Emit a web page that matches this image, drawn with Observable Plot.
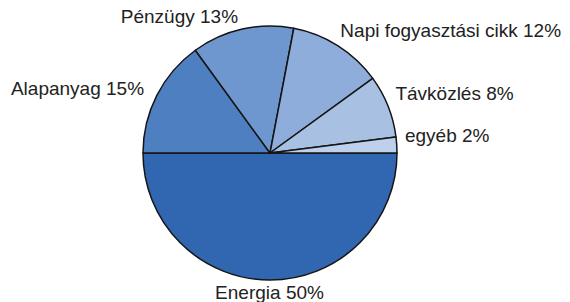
<!DOCTYPE html>
<html>
<head>
<meta charset="utf-8">
<script src="https://cdn.jsdelivr.net/npm/d3@7"></script>
<script src="https://cdn.jsdelivr.net/npm/@observablehq/plot@0.6"></script>
<style>
  html, body { margin: 0; padding: 0; background: #fff; }
  #chart { width: 570px; height: 302px; overflow: hidden; }
</style>
</head>
<body>
<div id="chart"></div>
<script>
const categories = ["Energia", "Alapanyag", "Pénzügy", "Napi fogyasztási cikk", "Távközlés", "egyéb"];
const shares = [50, 15, 13, 12, 8, 2];
const colors = ["#3166b0", "#4e7fc1", "#6e96cf", "#8eaddb", "#a8c0e2", "#bdd0ec"];

const data = categories.map((c, i) => ({name: c, value: shares[i], color: colors[i]}));
const arcs = d3.pie().sort(null).value(d => d.value)
  .startAngle(Math.PI / 2).endAngle(Math.PI / 2 + 2 * Math.PI)(data);

const W = 570, H = 302, R = 127, CX = 270, CY = 153;
const LR = 1.1;
const labels = arcs.map(a => {
  const m = (a.startAngle + a.endAngle) / 2;
  const sx = Math.sin(m), cy = Math.cos(m);
  // lift right-hand labels slightly (in pixels, converted to data units)
  const lift = sx > 0.01 ? 9 * sx : 1 * Math.abs(sx);
  return {
    text: `${a.data.name} ${a.data.value}%`,
    x: LR * sx,
    y: LR * cy + lift / R,
    anchor: sx > 0.01 ? "start" : sx < -0.01 ? "end" : "middle"
  };
});

function pieMark(index, scales) {
  const x0 = scales.x(0), y0 = scales.y(0);
  const r = scales.x(1) - scales.x(0);
  const arcGen = d3.arc().innerRadius(0).outerRadius(r);
  const g = d3.create("svg:g").attr("transform", `translate(${x0},${y0})`);
  g.selectAll("path").data(arcs).join("path")
    .attr("d", arcGen)
    .attr("fill", d => d.data.color)
    .attr("stroke", "#151515")
    .attr("stroke-width", 1.5)
    .attr("stroke-linejoin", "round");
  return g.node();
}

const nudge = {start: -5, end: -2, middle: -1};

const plot = Plot.plot({
  width: W,
  height: H,
  margin: 0,
  x: {domain: [-CX / R, (W - CX) / R], range: [0, W], axis: null},
  y: {domain: [-(H - CY) / R, CY / R], range: [H, 0], axis: null},
  style: {fontFamily: "Arial, 'Liberation Sans', sans-serif", background: "#fff", overflow: "hidden"},
  marks: [
    pieMark,
    ...["start", "end", "middle"].map(anc => Plot.text(labels.filter(l => l.anchor === anc), {
      x: "x", y: "y", text: "text", textAnchor: anc, dx: nudge[anc],
      fontSize: 19, fill: "#222"
    }))
  ]
});
document.getElementById("chart").append(plot);
</script>
</body>
</html>
